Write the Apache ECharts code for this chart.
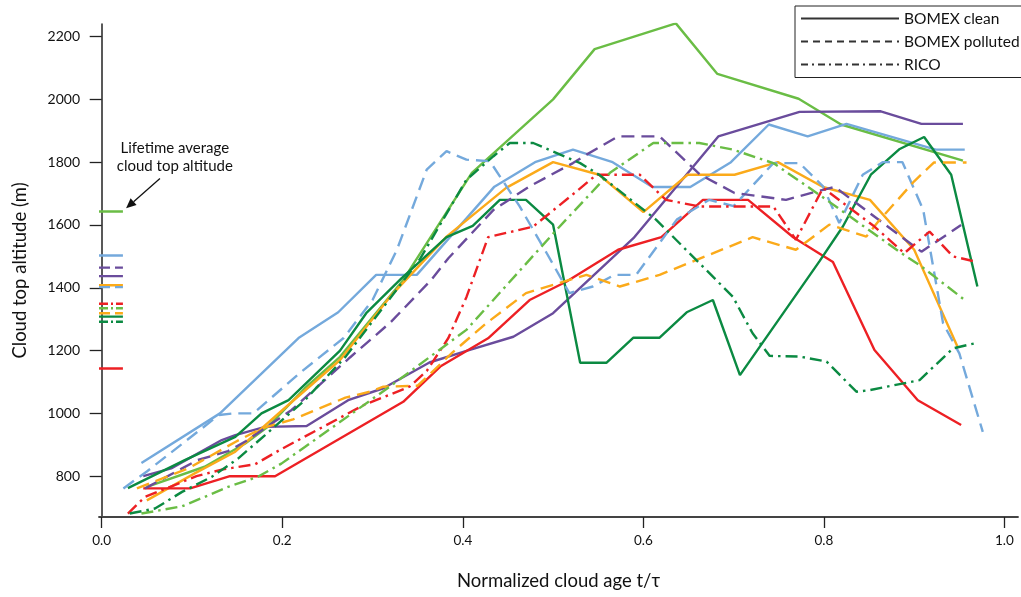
<!DOCTYPE html>
<html>
<head>
<meta charset="utf-8">
<script src="https://cdn.jsdelivr.net/npm/echarts@6/dist/echarts.min.js"></script>
<style>
html,body{margin:0;padding:0;background:#fff;}
#chart{width:1021px;height:597px;}
</style>
</head>
<body>
<div id="chart"></div>
<script>
// ---------- tick labels ----------
const xTicks = [0, 0.2, 0.4, 0.6, 0.8, 1.0];
const yTicks = [800, 1000, 1200, 1400, 1600, 1800, 2000, 2200];

// ---------- series data: [normalized age, cloud top altitude (m)] ----------
const cleanLightGreen = [[0.05,766],[0.114,830],[0.159,904],[0.184,957],[0.225,1080],[0.264,1180],[0.334,1425],[0.41,1766],[0.5,2000],[0.546,2160],[0.636,2242],[0.682,2081],[0.772,2002],[0.819,1920],[0.954,1805]];
const cleanLightBlue = [[0.044,842],[0.131,1000],[0.218,1240],[0.262,1322],[0.304,1441],[0.349,1441],[0.435,1722],[0.48,1800],[0.522,1840],[0.566,1800],[0.61,1721],[0.652,1721],[0.697,1800],[0.739,1920],[0.782,1882],[0.825,1922],[0.924,1840],[0.956,1840]];
const cleanPurple = [[0.046,800],[0.077,825],[0.133,915],[0.148,931],[0.181,957],[0.227,960],[0.273,1042],[0.312,1080],[0.363,1162],[0.405,1200],[0.456,1244],[0.5,1319],[0.589,1558],[0.683,1882],[0.773,1960],[0.863,1962],[0.908,1922],[0.954,1922]];
const cleanOrange = [[0.05,723],[0.103,809],[0.148,878],[0.2,1010],[0.264,1170],[0.319,1370],[0.382,1563],[0.448,1718],[0.5,1800],[0.551,1760],[0.6,1641],[0.649,1760],[0.701,1760],[0.749,1800],[0.799,1721],[0.851,1680],[0.9,1521],[0.948,1212]];
const cleanRed = [[0.046,761],[0.098,761],[0.142,800],[0.192,800],[0.334,1037],[0.375,1149],[0.428,1239],[0.474,1361],[0.515,1420],[0.572,1521],[0.62,1561],[0.666,1680],[0.716,1680],[0.766,1561],[0.81,1482],[0.856,1202],[0.904,1042],[0.952,963]];
const cleanDarkGreen = [[0.029,762],[0.092,851],[0.148,925],[0.177,1000],[0.207,1042],[0.264,1200],[0.293,1319],[0.332,1430],[0.382,1561],[0.411,1597],[0.441,1680],[0.47,1680],[0.5,1601],[0.53,1161],[0.559,1161],[0.589,1241],[0.618,1241],[0.648,1322],[0.677,1361],[0.707,1122],[0.795,1484],[0.821,1595],[0.852,1760],[0.884,1842],[0.911,1880],[0.941,1760],[0.97,1404]];

const pollutedLightBlue = [[0.024,761],[0.05,815],[0.13,995],[0.146,1000],[0.168,1000],[0.22,1130],[0.268,1240],[0.3,1361],[0.327,1521],[0.36,1776],[0.382,1835],[0.404,1808],[0.43,1803],[0.463,1659],[0.493,1510],[0.518,1383],[0.544,1404],[0.568,1441],[0.592,1441],[0.637,1617],[0.673,1680],[0.7,1660],[0.744,1797],[0.773,1797],[0.799,1723],[0.817,1606],[0.843,1760],[0.865,1800],[0.887,1800],[0.91,1648],[0.932,1287],[0.95,1191],[0.976,941]];
const pollutedPurple = [[0.048,761],[0.106,851],[0.14,880],[0.16,912],[0.21,1010],[0.275,1178],[0.32,1290],[0.365,1425],[0.384,1494],[0.434,1648],[0.474,1723],[0.522,1797],[0.537,1824],[0.572,1882],[0.618,1882],[0.663,1760],[0.701,1702],[0.758,1680],[0.799,1712],[0.812,1721],[0.908,1515],[0.952,1600]];
const pollutedOrange = [[0.039,761],[0.096,825],[0.148,909],[0.177,952],[0.212,981],[0.232,1005],[0.27,1050],[0.297,1069],[0.312,1085],[0.35,1088],[0.389,1195],[0.426,1287],[0.47,1383],[0.518,1425],[0.537,1441],[0.574,1404],[0.618,1441],[0.673,1505],[0.721,1561],[0.769,1521],[0.806,1601],[0.847,1563],[0.86,1610],[0.9,1739],[0.922,1799],[0.958,1799]];

const ricoRed = [[0.029,681],[0.048,734],[0.105,800],[0.133,821],[0.17,838],[0.197,883],[0.234,940],[0.29,1026],[0.341,1085],[0.36,1135],[0.384,1240],[0.404,1370],[0.428,1561],[0.478,1595],[0.526,1707],[0.548,1760],[0.596,1760],[0.625,1680],[0.662,1659],[0.744,1659],[0.769,1553],[0.799,1718],[0.856,1595],[0.889,1510],[0.917,1579],[0.943,1500],[0.967,1484]];
const ricoLightGreen = [[0.044,681],[0.089,704],[0.114,734],[0.14,766],[0.173,798],[0.199,840],[0.225,893],[0.319,1085],[0.404,1266],[0.504,1585],[0.563,1766],[0.611,1861],[0.662,1861],[0.699,1840],[0.744,1797],[0.795,1696],[0.886,1510],[0.908,1468],[0.956,1361]];
const ricoDarkGreen = [[0.031,681],[0.059,697],[0.089,750],[0.122,798],[0.151,856],[0.181,931],[0.225,1042],[0.27,1180],[0.352,1489],[0.404,1744],[0.434,1819],[0.452,1861],[0.478,1861],[0.53,1797],[0.551,1760],[0.614,1617],[0.699,1372],[0.721,1255],[0.74,1183],[0.773,1181],[0.803,1165],[0.836,1069],[0.851,1074],[0.906,1106],[0.943,1207],[0.967,1223]];

// lifetime average cloud top altitude for each run (same order as runs below)
const lifetimeAvg = [1643, 1503, 1437, 1408, 1143, 1308, 1402, 1464, 1319, 1349, 1335, 1292];
const lifetimeSpan = [-0.003, 0.0235];

// ---------- styling ----------
const COL = {lightGreen:'#6abd45', lightBlue:'#74a9dc', purple:'#6a4c9c', orange:'#fbaa1a', red:'#ed2024', darkGreen:'#0b8a42'};
const DASH = {clean:'solid', polluted:[13,7], rico:[12,5,2.5,5]};
const FONT = 'Lato, "Noto Sans", sans-serif';

const runs = [
  {data: cleanLightGreen, color: COL.lightGreen, kind:'clean'},
  {data: cleanLightBlue, color: COL.lightBlue, kind:'clean'},
  {data: cleanPurple, color: COL.purple, kind:'clean'},
  {data: cleanOrange, color: COL.orange, kind:'clean'},
  {data: cleanRed, color: COL.red, kind:'clean'},
  {data: cleanDarkGreen, color: COL.darkGreen, kind:'clean'},
  {data: pollutedLightBlue, color: COL.lightBlue, kind:'polluted'},
  {data: pollutedPurple, color: COL.purple, kind:'polluted'},
  {data: pollutedOrange, color: COL.orange, kind:'polluted'},
  {data: ricoRed, color: COL.red, kind:'rico'},
  {data: ricoLightGreen, color: COL.lightGreen, kind:'rico'},
  {data: ricoDarkGreen, color: COL.darkGreen, kind:'rico'}
];

const legendNames = ['BOMEX clean', 'BOMEX polluted', 'RICO'];
const legendDash = ['solid', [7,5], [7,4,2,4]];

const series = [];
runs.forEach((r, i) => {
  series.push({
    type:'line', data:r.data, symbol:'none', silent:true, z:2,
    lineStyle:{color:r.color, width:2.4, type:DASH[r.kind]}
  });
  series.push({
    type:'line', data:[[lifetimeSpan[0], lifetimeAvg[i]],[lifetimeSpan[1], lifetimeAvg[i]]],
    symbol:'none', silent:true, z:3,
    lineStyle:{color:r.color, width:2.4, type: r.kind==='clean' ? 'solid' : (r.kind==='polluted' ? [11,5] : [9,3,2,3])}
  });
});
legendNames.forEach((n, i) => {
  series.push({name:n, type:'line', data:[], symbol:'none',
    lineStyle:{color:'#333', width:1.5, type:legendDash[i]},
    itemStyle:{color:'rgba(0,0,0,0)', borderWidth:0, opacity:0}});
});

const chart = echarts.init(document.getElementById('chart'), null, {renderer:'canvas'});
chart.setOption({
  animation:false,
  backgroundColor:'#fff',
  textStyle:{fontFamily:FONT},
  grid:{left:99, right:3, top:24, bottom:80, containLabel:false, outerBoundsMode:'none'},
  legend:{
    data:legendNames, orient:'vertical', left:795, top:6,
    itemWidth:98, itemHeight:14, itemGap:7,
    padding:[4.5,14,5,5],
    borderColor:'#222', borderWidth:1, backgroundColor:'#fff',
    itemStyle:{color:'rgba(0,0,0,0)', borderWidth:0, opacity:0},
    textStyle:{fontFamily:FONT, fontSize:15.5, color:'#111'},
    selectedMode:false
  },
  xAxis:{
    type:'value', min:-0.003, max:1.015,
    name:'Normalized cloud age t/\u03c4', nameLocation:'middle', nameGap:55,
    nameTextStyle:{fontFamily:FONT, fontSize:18.5, color:'#111'},
    axisLine:{show:true, lineStyle:{color:'#444', width:1.8}},
    axisTick:{show:true, inside:false, length:11, customValues:xTicks, lineStyle:{color:'#222', width:1.3}},
    axisLabel:{customValues:xTicks, margin:17, fontSize:13.5, color:'#111', fontFamily:FONT,
      formatter:v => v.toFixed(1)},
    splitLine:{show:false}
  },
  yAxis:{
    type:'value', min:670, max:2240,
    name:'Cloud top altitude (m)', nameLocation:'middle', nameGap:69, nameRotate:90,
    nameTextStyle:{fontFamily:FONT, fontSize:18.5, color:'#111'},
    axisLine:{show:true, lineStyle:{color:'#222', width:1.5}},
    axisTick:{show:true, inside:false, length:12, customValues:yTicks, lineStyle:{color:'#222', width:1.3}},
    axisLabel:{customValues:yTicks, margin:19, fontSize:14, color:'#111', fontFamily:FONT,
      formatter:v => String(Math.round(v))},
    splitLine:{show:false}
  },
  series:series
});

// ---------- annotation anchored to data coordinates ----------
const line1 = chart.convertToPixel({gridIndex:0}, [0.081, 1845]);
const line2 = chart.convertToPixel({gridIndex:0}, [0.081, 1787]);
const tail = chart.convertToPixel({gridIndex:0}, [0.0645, 1748]);
const tip = chart.convertToPixel({gridIndex:0}, [0.027, 1653]);
const ang = Math.atan2(tip[1]-tail[1], tip[0]-tail[0]);
const hl = 10, hw = 4.5;
const bx = tip[0] - hl*Math.cos(ang), by = tip[1] - hl*Math.sin(ang);
const head = [
  tip,
  [bx + hw*Math.sin(ang), by - hw*Math.cos(ang)],
  [bx - hw*Math.sin(ang), by + hw*Math.cos(ang)]
];
const noteStyle = {fontFamily:FONT, fontSize:15, fill:'#111', align:'center', verticalAlign:'middle'};
chart.setOption({
  graphic:[
    {type:'text', x:line1[0], y:line1[1], silent:true, style:Object.assign({text:'Lifetime average'}, noteStyle)},
    {type:'text', x:line2[0], y:line2[1], silent:true, style:Object.assign({text:'cloud top altitude'}, noteStyle)},
    {type:'line', silent:true, shape:{x1:tail[0], y1:tail[1], x2:bx, y2:by},
      style:{stroke:'#111', lineWidth:1.3}},
    {type:'polygon', silent:true, shape:{points:head}, style:{fill:'#111'}}
  ]
});
</script>
</body>
</html>
